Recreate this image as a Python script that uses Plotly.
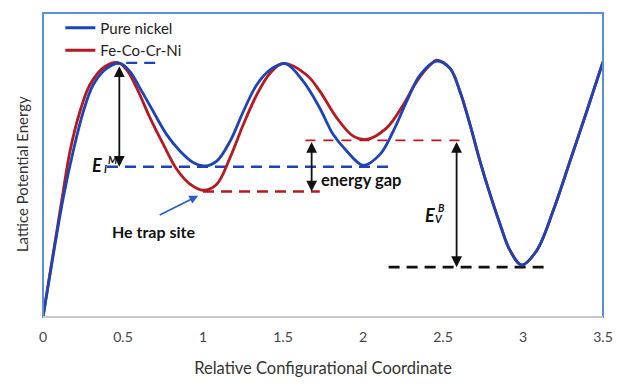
import plotly.graph_objects as go

# ---- data (y in arbitrary energy units 0-10) ----
x_nickel = [0, 0.127, 0.189, 0.252, 0.314, 0.398, 0.481, 0.544, 0.606, 0.689, 0.773, 0.856,
            0.939, 1.0125, 1.086, 1.169, 1.252, 1.336, 1.419, 1.5125, 1.627, 1.731, 1.814,
            1.898, 2.002, 2.106, 2.189, 2.273, 2.356, 2.461, 2.544, 2.606, 2.669, 2.731,
            2.794, 2.856, 2.919, 2.992, 3.086, 3.189, 3.294, 3.398, 3.5]
y_nickel = [0, 3.93, 5.46, 6.76, 7.64, 8.18, 8.34, 8.07, 7.53, 6.76, 6.00, 5.46,
            5.08, 4.97, 5.13, 5.78, 6.76, 7.64, 8.13, 8.34, 7.75, 6.86, 6.00,
            5.46, 4.99, 5.35, 6.11, 7.09, 7.96, 8.42, 8.18, 7.42, 6.33, 5.13,
            4.04, 3.06, 2.19, 1.71, 2.19, 3.50, 5.13, 6.76, 8.40]

x_alloy = [0, 0.12, 0.169, 0.231, 0.294, 0.3875, 0.469, 0.523, 0.586, 0.669, 0.752, 0.836,
           0.919, 1.002, 1.086, 1.169, 1.252, 1.336, 1.419, 1.502, 1.648, 1.731, 1.836,
           1.939, 2.023, 2.148, 2.252, 2.336, 2.419, 2.461, 2.544, 2.606, 2.669, 2.731,
           2.794, 2.856, 2.919, 2.992, 3.086, 3.189, 3.294, 3.398, 3.5]
y_alloy = [0, 3.93, 5.46, 6.76, 7.65, 8.24, 8.37, 8.13, 7.53, 6.55, 5.68, 4.86,
           4.37, 4.17, 4.37, 5.24, 6.33, 7.31, 8.02, 8.34, 7.96, 7.42, 6.55,
           5.95, 5.84, 6.22, 6.98, 7.75, 8.29, 8.45, 8.18, 7.42, 6.33, 5.13,
           4.04, 3.06, 2.19, 1.71, 2.19, 3.50, 5.13, 6.76, 8.40]

x_ticks = [0, 0.5, 1, 1.5, 2, 2.5, 3, 3.5]
x_tick_labels = ["0", "0.5", "1", "1.5", "2", "2.5", "3", "3.5"]

# reference energy levels
peak_level = 8.36
ni_trap_level = 4.94
alloy_trap_level = 4.13
alloy_site2_level = 5.81
bulk_level = 1.64

BLUE = "#1c44b8"
RED = "#b8191f"
FONT = "Lato, 'Open Sans', sans-serif"

fig = go.Figure()

# dashed reference levels
def dash(x0, x1, y, color, width, pattern):
    fig.add_trace(go.Scatter(x=[x0, x1], y=[y, y], mode="lines", showlegend=False,
                             hoverinfo="skip",
                             line=dict(color=color, width=width, dash=pattern)))

dash(0.52, 0.73, peak_level, BLUE, 2.4, "11px,7px")
dash(0.40, 2.16, ni_trap_level, BLUE, 2.4, "11px,7px")
dash(1.0, 1.73, alloy_trap_level, RED, 2.4, "11px,7px")
dash(1.64, 2.64, alloy_site2_level, RED, 1.7, "10px,8px")
dash(2.16, 3.16, bulk_level, "#111111", 2.8, "11px,7px")

fig.add_trace(go.Scatter(x=x_alloy, y=y_alloy, mode="lines", name="Fe-Co-Cr-Ni",
                         line=dict(color=RED, width=2.8, shape="spline", smoothing=1.0)))
fig.add_trace(go.Scatter(x=x_nickel, y=y_nickel, mode="lines", name="Pure nickel",
                         line=dict(color=BLUE, width=2.8, shape="spline", smoothing=1.0)))

# double-headed arrows
def darrow(x, y0, y1):
    fig.add_annotation(x=x, y=y1, ax=x, ay=y0, xref="x", yref="y", axref="x", ayref="y",
                       showarrow=True, arrowhead=2, arrowsize=1.2, arrowwidth=1.8,
                       arrowcolor="#111111", arrowside="end+start", text="")

darrow(0.477, 8.30, ni_trap_level)
darrow(1.679, alloy_site2_level, alloy_trap_level)
darrow(2.585, alloy_site2_level, bulk_level)

# He trap site arrow
fig.add_annotation(x=0.97, y=3.99, ax=0.72, ay=3.33, xref="x", yref="y", axref="x", ayref="y",
                   showarrow=True, arrowhead=2, arrowsize=1.1, arrowwidth=1.6,
                   arrowcolor="#2a5cc4", text="")

def label(x, y, text, size, bold=True, italic=False):
    t = text
    if italic:
        t = "<i>" + t + "</i>"
    if bold:
        t = "<b>" + t + "</b>"
    fig.add_annotation(x=x, y=y, xref="x", yref="y", text=t, showarrow=False,
                       xanchor="center", yanchor="middle",
                       font=dict(family=FONT, size=size, color="#111111"))

label(0.6875, 2.81, "He trap site", 16)
label(1.9875, 4.51, "energy gap", 16.5)
# E_I^M
label(0.335, 5.0, "E", 18, italic=True)
label(0.433, 5.17, "M", 10.5, italic=True)
label(0.39, 4.86, "I", 10.5, italic=True)
# E_V^B
label(2.417, 3.37, "E", 18, italic=True)
label(2.492, 3.6, "B", 10.5, italic=True)
label(2.474, 3.22, "V", 10.5, italic=True)

# y axis title (placed a little below the plot centre, as in the reference)
fig.add_annotation(xref="paper", yref="paper", x=-0.0375, y=0.47, text="Lattice Potential Energy",
                   textangle=-90, showarrow=False, xanchor="center", yanchor="middle",
                   font=dict(family=FONT, size=15, color="#333333"))

# plot frame
fig.add_shape(type="rect", xref="x domain", yref="y domain", x0=0, x1=1, y0=0, y1=1,
              line=dict(color="#5b8fd9", width=2), layer="above")
fig.add_shape(type="line", xref="x domain", yref="y domain", x0=0, x1=1, y0=0, y1=0,
              line=dict(color="#c8c8c8", width=2), layer="above")

# page body has an 8px margin, so the figure is 8px smaller and its margins shifted
fig.update_layout(
    width=617, height=377,
    margin=dict(l=35, r=22, t=3, b=68),
    paper_bgcolor="white", plot_bgcolor="white",
    font=dict(family=FONT, color="#333333"),
    showlegend=True,
    legend=dict(x=0.031, y=1.005, xanchor="left", yanchor="top",
                bgcolor="rgba(0,0,0,0)", traceorder="reversed",
                font=dict(family=FONT, size=15, color="#222222"),
                itemwidth=30, tracegroupgap=0),
    xaxis=dict(range=[0, 3.5], tickvals=x_ticks, ticktext=x_tick_labels,
               showgrid=False, zeroline=False, showline=False, ticks="",
               tickfont=dict(family=FONT, size=14, color="#444444"),
               ticklabelstandoff=10,
               title=dict(text="Relative Configurational Coordinate", standoff=18,
                          font=dict(family=FONT, size=16.5, color="#333333"))),
    yaxis=dict(range=[0, 10], showticklabels=False, showgrid=False, zeroline=False,
               showline=False, ticks=""),
)

fig.write_html("out.html")
